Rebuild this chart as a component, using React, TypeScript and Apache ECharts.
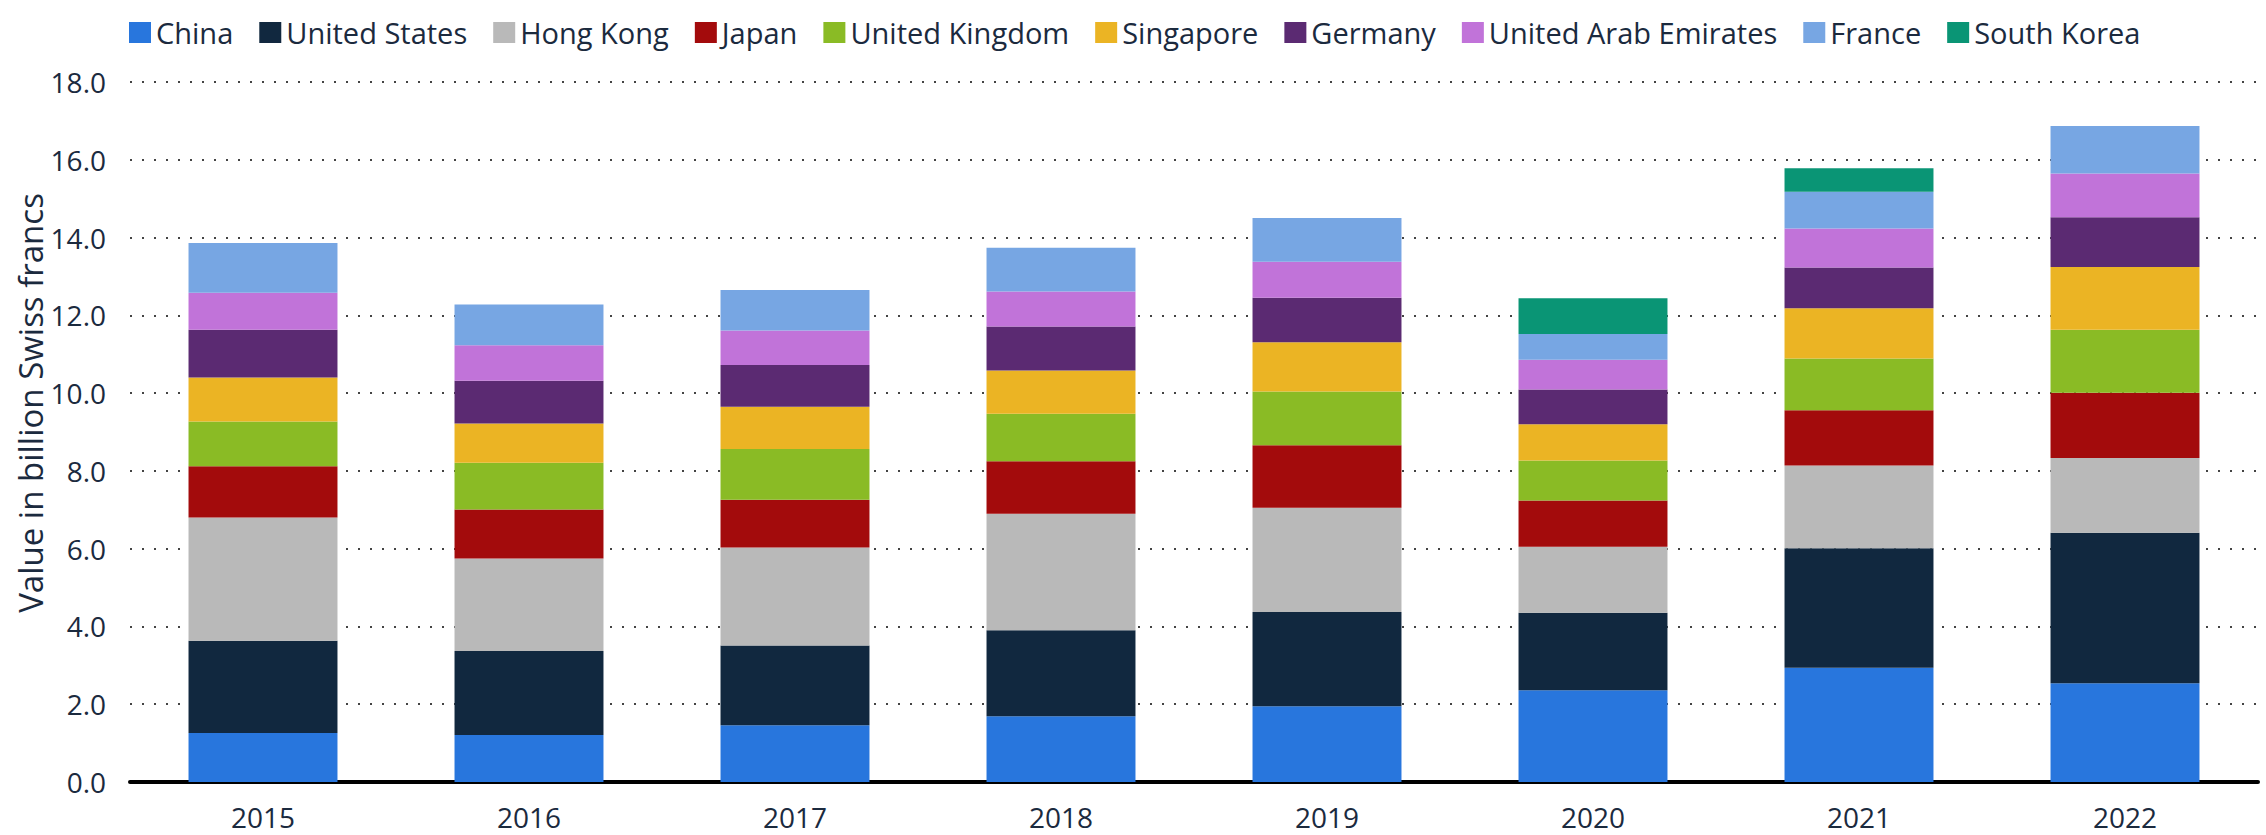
import React, { useEffect, useRef } from "react";
import * as echarts from "echarts";

const years = ["2015", "2016", "2017", "2018", "2019", "2020", "2021", "2022"];
const yTicks = [0, 2, 4, 6, 8, 10, 12, 14, 16, 18];

const china = [1.26, 1.21, 1.46, 1.69, 1.95, 2.36, 2.94, 2.54];
const unitedStates = [2.37, 2.16, 2.05, 2.21, 2.42, 1.99, 3.07, 3.87];
const hongKong = [3.17, 2.38, 2.52, 3.0, 2.68, 1.7, 2.13, 1.92];
const japan = [1.32, 1.26, 1.23, 1.35, 1.61, 1.19, 1.42, 1.68];
const unitedKingdom = [1.15, 1.2, 1.3, 1.22, 1.38, 1.03, 1.33, 1.62];
const singapore = [1.13, 1.01, 1.09, 1.11, 1.27, 0.93, 1.29, 1.61];
const germany = [1.23, 1.1, 1.07, 1.13, 1.14, 0.89, 1.05, 1.28];
const uae = [0.95, 0.91, 0.89, 0.9, 0.93, 0.77, 1.0, 1.13];
const france = [1.28, 1.05, 1.04, 1.13, 1.12, 0.66, 0.95, 1.22];
const southKorea = [null, null, null, null, null, 0.92, 0.6, null];

const seriesDefs = [
  { name: "China", data: china, color: "#2876dd" },
  { name: "United States", data: unitedStates, color: "#11283f" },
  { name: "Hong Kong", data: hongKong, color: "#b9b9b9" },
  { name: "Japan", data: japan, color: "#a30b0c" },
  { name: "United Kingdom", data: unitedKingdom, color: "#8abb25" },
  { name: "Singapore", data: singapore, color: "#ebb424" },
  { name: "Germany", data: germany, color: "#5b2a72" },
  { name: "United Arab Emirates", data: uae, color: "#c173d9" },
  { name: "France", data: france, color: "#77a6e3" },
  { name: "South Korea", data: southKorea, color: "#0a9575" },
];

const TEXT = "#1b2a3e";
const FONT = "'Open Sans', 'Noto Sans', sans-serif";

export default function App() {
  const ref = useRef<HTMLDivElement>(null);

  useEffect(() => {
    document.body.style.margin = "0";
    document.body.style.overflow = "hidden";
    if (!ref.current) return;
    const chart = echarts.init(ref.current, null, { renderer: "svg" });
    chart.setOption({
      animation: false,
      backgroundColor: "#ffffff",
      textStyle: { fontFamily: FONT },
      legend: {
        top: 13,
        left: 124,
        itemWidth: 22,
        itemHeight: 21,
        itemGap: 26,
        icon: "rect",
        textStyle: { fontSize: 29, color: TEXT, fontFamily: FONT },
        data: seriesDefs.map((s) => s.name),
      },
      grid: { left: 130, right: 8, top: 82, bottom: 53 },
      xAxis: {
        type: "category",
        data: years,
        axisLine: { show: true, lineStyle: { color: "#000000", width: 4 } },
        axisTick: { show: false },
        axisLabel: { fontSize: 28, color: TEXT, margin: 20, lineHeight: 30, fontFamily: FONT },
      },
      yAxis: {
        type: "value",
        min: yTicks[0],
        max: yTicks[yTicks.length - 1],
        interval: 2,
        axisLine: { show: false },
        axisTick: { show: false },
        axisLabel: {
          fontSize: 28,
          color: TEXT,
          margin: 24,
          fontFamily: FONT,
          formatter: (v: number) => v.toFixed(1),
        },
        splitLine: {
          show: true,
          lineStyle: { color: "#444444", width: 2, type: [2, 10] },
        },
      },
      graphic: [
        {
          type: "text",
          x: 30,
          y: 403,
          rotation: Math.PI / 2,
          style: {
            text: "Value in billion Swiss francs",
            fontSize: 33,
            fontFamily: FONT,
            fill: TEXT,
            align: "center",
            verticalAlign: "middle",
          },
        },
      ],
      series: seriesDefs.map((s) => ({
        name: s.name,
        type: "bar",
        stack: "total",
        barWidth: "56%",
        data: s.data,
        itemStyle: { color: s.color },
        emphasis: { disabled: true },
      })),
    });
    return () => chart.dispose();
  }, []);

  return <div ref={ref} style={{ width: 2266, height: 835 }} />;
}
